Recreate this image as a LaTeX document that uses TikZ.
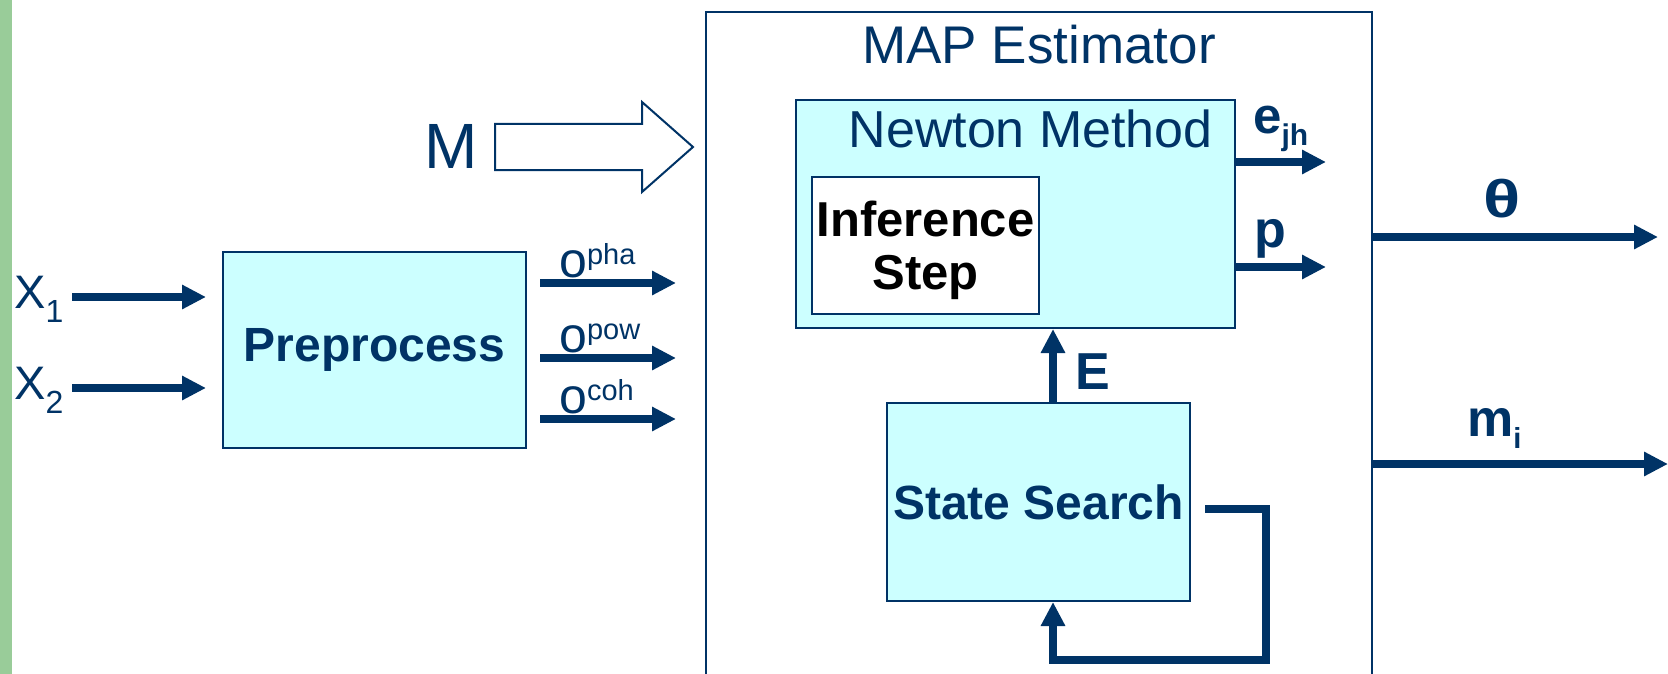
\documentclass[tikz,border=0pt]{standalone}
\usepackage{fontspec}
\setmainfont{Liberation Sans}
\usetikzlibrary{arrows.meta,positioning}
\definecolor{navy}{HTML}{003366}
\definecolor{boxfill}{HTML}{CCFFFF}
\definecolor{barcol}{HTML}{99CC99}
\newcommand{\fsz}[1]{\fontsize{#1}{#1}\selectfont}
\begin{document}
\begin{tikzpicture}[x=1pt,y=-1pt,
    block/.style={draw=navy, line width=2pt, fill=boxfill, text=navy, inner sep=0pt,
                  font=\bfseries\fsz{48}},
    flow/.style={navy, line width=7.5pt, -{Triangle[length=24pt,width=23pt]}},
    lbl/.style={text=navy, inner sep=0pt}]
    \useasboundingbox (0,0) rectangle (1668,674);
    % green strip on the left edge
    \fill[barcol] (0,0) rectangle (12,674);
    % estimator frame, runs off the bottom
    \node[draw=navy, line width=2pt, anchor=north west, inner sep=0pt,
          minimum width=666pt, minimum height=700pt] (map) at (705,11) {};
    \node[lbl, font=\fsz{53}, anchor=base] (maptitle) at (1039,64) {MAP Estimator};
    % blocks
    \node[block, minimum width=303pt, minimum height=196pt] (pre) at (374.5,350) {Preprocess};
    \node[block, minimum width=439pt, minimum height=228pt] (newton) at (1015.5,214) {};
    \node[lbl, font=\fsz{52}, anchor=base east] (newtonlbl) at (1213,147) {Newton Method};
    \node[block, fill=white, text=black, align=center, minimum width=227pt, minimum height=137pt,
          font=\bfseries\fontsize{49}{53}\selectfont] (infer) at (925.5,245) {};
    \node[text=black, align=center, inner sep=0pt, font=\bfseries\fontsize{49}{53}\selectfont]
        (inferlbl) at (925.5,250) {Inference\\Step};
    \node[block, minimum width=303pt, minimum height=198pt] (search) at (1038.5,502) {State Search};
    % hollow input arrow for M
    \draw[navy, line width=2pt, fill=white] (495,124) -- (642,124) -- (642,102) -- (693,147)
        -- (642,192) -- (642,170) -- (495,170) -- cycle;
    \node[lbl, font=\fsz{64}, anchor=base] (mlbl) at (451,168) {M};
    % inputs X1, X2
    \coordinate (x1) at (72,297);
    \coordinate (x2) at (72,388);
    \draw[flow, shorten >=16pt] (x1) -- (x1 -| pre.west);
    \draw[flow, shorten >=16pt] (x2) -- (x2 -| pre.west);
    \node[lbl, font=\fsz{47}, anchor=base west] (x1lbl) at (14,308) {X\raisebox{-14pt}{\fsz{32}1}};
    \node[lbl, font=\fsz{47}, anchor=base west] (x2lbl) at (14,399) {X\raisebox{-14pt}{\fsz{32}2}};
    % features out of the preprocessing
    \foreach \y/\s [count=\i] in {283/pha,358/pow,419/coh} {
        \coordinate (o\i) at (540,\y);
        \draw[flow, shorten >=29pt] (o\i) -- (o\i -| map.west);
        \node[lbl, font=\fsz{50}, anchor=base west] (olbl\i) at (559,\y-6)
            {o\raisebox{13pt}{\fsz{29}\s}};
    }
    % Newton outputs
    \coordinate (ejh) at (1326,162);
    \coordinate (pout) at (1326,267);
    \draw[flow] (ejh -| newton.east) -- (ejh);
    \draw[flow] (pout -| newton.east) -- (pout);
    \node[lbl, font=\bfseries\fsz{51}, anchor=base west] (ejhlbl) at (1253,134)
        {e\raisebox{-12pt}{\fsz{30}jh}};
    \node[lbl, font=\bfseries\fsz{52}, anchor=base west] (plbl) at (1254,247) {p};
    % estimator outputs
    \coordinate (theta) at (1658,237);
    \coordinate (mout) at (1668,464);
    \draw[flow] (theta -| map.east) -- (theta);
    \draw[flow] (mout -| map.east) -- (mout);
    \node[lbl, font=\bfseries\fsz{53}, anchor=base] (thetalbl) at (1502,217) {\scalebox{1.3}[1]{θ}};
    \node[lbl, font=\bfseries\fsz{52}, anchor=base west] (mlbl2) at (1467,436)
        {m\raisebox{-12pt}{\fsz{29}i}};
    % search feeds the Newton step, and loops on itself
    \coordinate (eup) at (1053,0);
    \draw[flow] (search.north -| eup) -- (newton.south -| eup);
    \node[lbl, font=\bfseries\fsz{52}, anchor=base west] (elbl) at (1075,389) {E};
    \draw[flow] (1205,509) -| (1266,660) -| (search.south -| eup);
\end{tikzpicture}
\end{document}
